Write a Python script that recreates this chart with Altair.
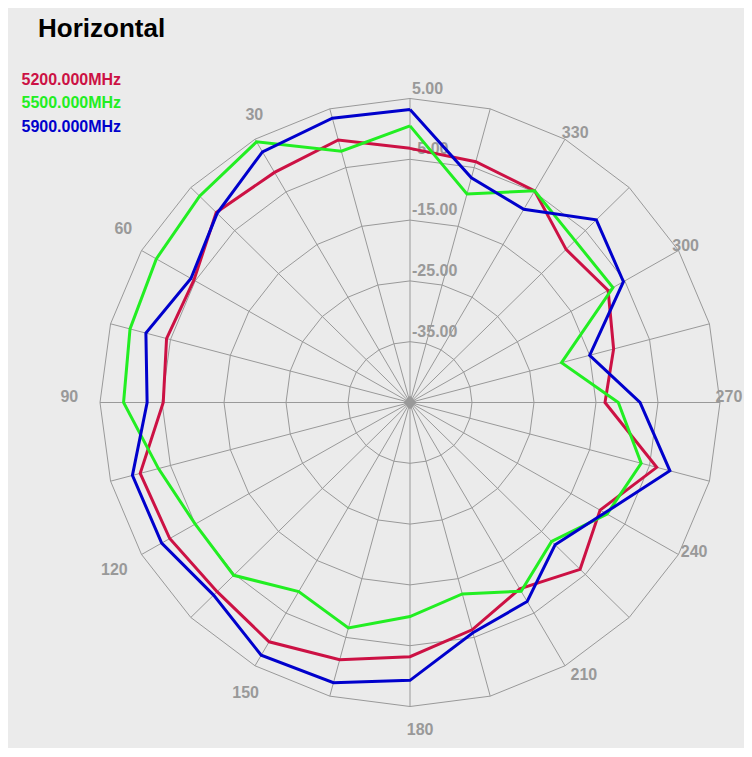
import altair as alt
import pandas as pd

# ---------------- data ----------------
angles = list(range(0, 360, 15))
v5200 = [-3.2, -0.3, -1.3, -0.8, -4.75, -4.35, -5.2, 0.05, -0.25, -1.0, 0.45, -1.2,
         -3.2, -6.3, -9.6, -6.2, -9.6, -3.8, -13.55, -11.0, -8.1, -9.4, -4.8, -4.0]
v5500 = [0.5, -2.2, 4.5, 3.0, 2.25, 1.75, 1.2, -3.0, -5.0, -4.8, -9.1, -6.6,
         -9.8, -12.4, -9.15, -12.7, -8.3, -6.4, -11.4, -19.7, -7.2, -7.35, -4.8, -9.5]
v5900 = [3.2, 3.4, 2.6, -1.0, -4.2, -0.9, -2.6, 1.35, 1.25, -0.2, 3.0, 2.7,
         0.7, -5.8, -7.2, -11.9, -8.7, -1.6, -7.9, -15.0, -5.25, -2.5, -8.3, -6.75]
series_names = ["5200.000MHz", "5500.000MHz", "5900.000MHz"]
series_colors = ["#cc1144", "#22ee22", "#0000cc"]
ring_values = [5, -5, -15, -25, -35]
label_angles = list(range(30, 360, 30))
title_text = "Horizontal"
db_min, db_max = -45, 5

GRID = "#999999"
BG = "#ebebeb"
W, H = 736, 740

# ---------------- tables ----------------
rows = []
for name, vals in zip(series_names, [v5200, v5500, v5900]):
    for i, (a, v) in enumerate(zip(angles + [360], vals + [vals[0]])):
        rows.append({"series": name, "angle": a, "value": v, "order": i})
curves = pd.DataFrame(rows)

ring_rows = []
for rv in ring_values:
    for i, a in enumerate(angles + [360]):
        ring_rows.append({"ring": rv, "angle": a, "value": rv, "order": i})
rings = pd.DataFrame(ring_rows)

spokes = pd.DataFrame({"angle": angles, "value": [db_max] * len(angles)})
ring_lab = pd.DataFrame({"value": ring_values, "label": [f"{v:.2f}" for v in ring_values]})
ang_lab = pd.DataFrame({"angle": label_angles})

r_expr = f"(datum.value - ({db_min})) / ({db_max - db_min})"
xs = alt.Scale(domain=[-402 / 310, (W - 402) / 310], nice=False, zero=False)
ys = alt.Scale(domain=[(394.5 - H) / 304, 394.5 / 304], nice=False, zero=False)
X = lambda f: alt.X(f, scale=xs, axis=None)
Y = lambda f: alt.Y(f, scale=ys, axis=None)


def polar(ch):
    return ch.transform_calculate(r=r_expr).transform_calculate(
        px="-datum.r * sin(datum.angle * PI / 180)",
        py="datum.r * cos(datum.angle * PI / 180)",
    )


ring_layer = polar(alt.Chart(rings)).mark_line(color=GRID, strokeWidth=1).encode(
    x=X("px:Q"), y=Y("py:Q"), detail="ring:N", order="order:Q",
)

spoke_layer = polar(alt.Chart(spokes)).transform_calculate(cx="0", cy="0").mark_rule(
    color=GRID, strokeWidth=1
).encode(x=X("cx:Q"), y=Y("cy:Q"), x2="px:Q", y2="py:Q")

center_layer = alt.Chart(pd.DataFrame({"cx": [0], "cy": [0]})).mark_point(
    shape="diamond", filled=True, fill=GRID, stroke=GRID, size=110, opacity=1
).encode(x=X("cx:Q"), y=Y("cy:Q"))

ring_label_layer = alt.Chart(ring_lab).transform_calculate(
    r=r_expr, px="0"
).mark_text(
    align="left", baseline="alphabetic", dx=2, dy=-5,
    font="Liberation Sans", fontSize=16, fontWeight="bold", color=GRID
).encode(x=X("px:Q"), y=Y("r:Q"), text="label:N")

ang_label_layer = alt.Chart(ang_lab).transform_calculate(
    th="datum.angle * PI / 180",
).transform_calculate(
    thc="datum.th + (2 * PI / 180) * sin(datum.th - 2 * PI / 3)",
    rc="1.064 + 0.035 * sin(datum.th) - 0.0138 * cos(datum.th)",
).transform_calculate(
    px="-datum.rc * sin(datum.thc)",
    py="datum.rc * cos(datum.thc)",
).mark_text(
    align="center", baseline="middle",
    font="Liberation Sans", fontSize=16, fontWeight="bold", color=GRID
).encode(x=X("px:Q"), y=Y("py:Q"), text="angle:Q")

curve_layer = polar(alt.Chart(curves)).mark_line(strokeWidth=3, strokeJoin="miter").encode(
    x=X("px:Q"), y=Y("py:Q"),
    color=alt.Color("series:N", scale=alt.Scale(domain=series_names[::-1], range=series_colors[::-1]), legend=None),
    order="order:Q",
)

title_layer = alt.Chart(pd.DataFrame({"t": [title_text]})).mark_text(
    align="left", baseline="alphabetic", font="Liberation Sans",
    fontSize=26, fontWeight="bold", color="#000000"
).encode(x=alt.value(30), y=alt.value(29), text="t:N")

legend_layers = []
for i, (name, col) in enumerate(zip(series_names, series_colors)):
    legend_layers.append(
        alt.Chart(pd.DataFrame({"t": [name]})).mark_text(
            align="left", baseline="middle", font="Liberation Sans",
            fontSize=16, fontWeight="bold", color=col
        ).encode(x=alt.value(13.5), y=alt.value(71.5 + 23.6 * i), text="t:N")
    )

chart = alt.layer(
    ring_layer, spoke_layer, center_layer, ring_label_layer, ang_label_layer,
    curve_layer, title_layer, *legend_layers
).properties(
    width=W, height=H, padding=0, background=BG,
    autosize=alt.AutoSizeParams(type="none"),
).configure_view(stroke=None)

chart.save("out.html", embed_options={"renderer": "svg", "actions": False})
